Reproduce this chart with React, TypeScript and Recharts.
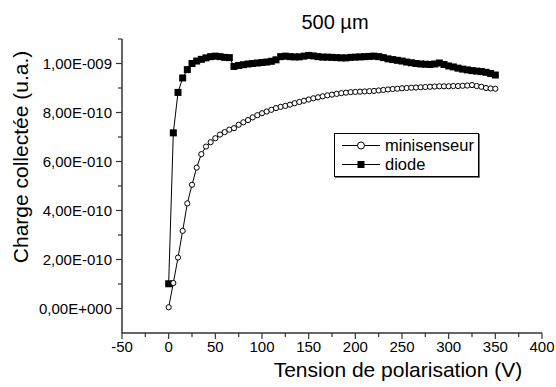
import { LineChart, Line, XAxis, YAxis, Legend } from 'recharts'

// bias voltage (V)
const voltages = [
  0, 5, 10, 15, 20, 25, 30, 35, 40, 45, 50, 55, 60, 65, 70, 75, 80, 85, 90, 95,
  100, 105, 110, 115, 120, 125, 130, 135, 140, 145, 150, 155, 160, 165, 170, 175,
  180, 185, 190, 195, 200, 205, 210, 215, 220, 225, 230, 235, 240, 245, 250, 255,
  260, 265, 270, 275, 280, 285, 290, 295, 300, 305, 310, 315, 320, 325, 330, 335,
  340, 345, 350,
]

// collected charge, in units of 1e-10
const minisenseur = [
  0.05, 1.04, 2.08, 3.17, 4.29, 5.05, 5.75, 6.3, 6.61, 6.79, 6.95, 7.1, 7.2, 7.3, 7.36, 7.5, 7.6, 7.69, 7.8, 7.89,
  7.97, 8.04, 8.11, 8.18, 8.23, 8.27, 8.32, 8.38, 8.43, 8.48, 8.53, 8.58, 8.62, 8.66, 8.7, 8.73,
  8.76, 8.79, 8.81, 8.83, 8.84, 8.85, 8.86, 8.87, 8.88, 8.9, 8.92, 8.94, 8.96, 8.97, 8.99, 9.0,
  9.01, 9.02, 9.03, 9.04, 9.05, 9.06, 9.07, 9.07, 9.07, 9.08, 9.08, 9.09, 9.1, 9.12, 9.08, 9.05,
  9.0, 8.98, 8.97,
]

const diode = [
  1.01, 7.17, 8.82, 9.41, 9.75, 10.0, 10.1, 10.17, 10.23, 10.28, 10.3, 10.28, 10.25, 10.24, 9.88, 9.92, 9.95, 9.98, 10.0, 10.02,
  10.04, 10.06, 10.09, 10.15, 10.28, 10.3, 10.28, 10.27, 10.27, 10.3, 10.33, 10.31, 10.28, 10.26, 10.26, 10.25,
  10.24, 10.23, 10.23, 10.25, 10.26, 10.27, 10.28, 10.29, 10.3, 10.28, 10.24, 10.19, 10.16, 10.13, 10.1, 10.06,
  10.03, 10.0, 9.98, 9.97, 9.96, 9.98, 10.02, 9.96, 9.9, 9.86, 9.81, 9.77, 9.74, 9.71, 9.69, 9.67,
  9.64, 9.59, 9.53,
]

const xTicks = [-50, -25, 0, 25, 50, 75, 100, 125, 150, 175, 200, 225, 250, 275, 300, 325, 350, 375, 400]
const yTicks = [0, 1, 2, 3, 4, 5, 6, 7, 8, 9, 10, 11]
const yTickLabels = ['0,00E+000', '2,00E-010', '4,00E-010', '6,00E-010', '8,00E-010', '1,00E-009']

const FONT = '"Liberation Sans", Arial, sans-serif'
const AXIS = '#333'

const data = voltages.map((v, i) => ({ v, minisenseur: minisenseur[i], diode: diode[i] }))

function XTick({ x, y, payload }: any) {
  const major = payload.value % 50 === 0
  return (
    <g>
      <line x1={x} x2={x} y1={y} y2={y + (major ? 6 : 4)} stroke={AXIS} strokeWidth={1.2} />
      {major && (
        <text x={x} y={y + 19} textAnchor="middle" fontSize={15} fontFamily={FONT} fill="#000">
          {payload.value}
        </text>
      )}
    </g>
  )
}

function YTick({ x, y, payload }: any) {
  const major = payload.value % 2 === 0
  const label = major ? yTickLabels[payload.value / 2] : undefined
  return (
    <g>
      <line x1={x} x2={x - (major ? 6 : 4)} y1={y} y2={y} stroke={AXIS} strokeWidth={1.2} />
      {label && (
        <text x={x - 10} y={y + 5} textAnchor="end" fontSize={15} fontFamily={FONT} fill="#000">
          {label}
        </text>
      )}
    </g>
  )
}

function SquareDot({ cx, cy, index }: any) {
  return <rect key={index} x={cx - 3.5} y={cy - 3.5} width={7} height={7} fill="#000" />
}

function renderLegend() {
  const rows = [
    { name: 'minisenseur', square: false },
    { name: 'diode', square: true },
  ]
  return (
    <div
      style={{
        width: 145,
        height: 44,
        border: '1px solid #000',
        boxShadow: '1px 1px 0 #777',
        background: '#fff',
        fontFamily: FONT,
        fontSize: 16.5,
        boxSizing: 'border-box',
        paddingTop: 2,
      }}
    >
      {rows.map((r) => (
        <div key={r.name} style={{ display: 'flex', alignItems: 'center', height: 19 }}>
          <svg width={50} height={19} style={{ flexShrink: 0 }}>
            <line x1={7} x2={45} y1={9.5} y2={9.5} stroke="#000" strokeWidth={1} />
            {r.square ? (
              <rect x={22.5} y={6} width={7} height={7} fill="#000" />
            ) : (
              <circle cx={26} cy={9.5} r={3.5} fill="#fff" stroke="#000" strokeWidth={1} />
            )}
          </svg>
          <span style={{ lineHeight: '19px' }}>{r.name}</span>
        </div>
      ))}
    </div>
  )
}

export default function App() {
  return (
    <div style={{ position: 'absolute', left: 0, top: 0, width: 556, height: 387, background: '#fff' }}>
      <LineChart width={556} height={387} data={data} margin={{ top: 39, right: 14, bottom: 24, left: 62 }}>
        <XAxis
          type="number"
          dataKey="v"
          domain={[-50, 400]}
          ticks={xTicks}
          interval={0}
          height={30}
          tickSize={0}
          tickMargin={0}
          tickLine={false}
          tick={<XTick />}
          axisLine={{ stroke: AXIS, strokeWidth: 1.5 }}
        />
        <YAxis
          type="number"
          domain={[-1, 11]}
          ticks={yTicks}
          interval={0}
          width={60}
          tickSize={0}
          tickMargin={0}
          tickLine={false}
          tick={<YTick />}
          axisLine={{ stroke: AXIS, strokeWidth: 1.5 }}
        />
        <Legend
          layout="horizontal"
          verticalAlign="middle"
          align="center"
          content={renderLegend}
          wrapperStyle={{ left: 334, top: 133, width: 147 }}
        />
        <Line
          dataKey="diode"
          stroke="#000"
          strokeWidth={1}
          dot={<SquareDot />}
          isAnimationActive={false}
        />
        <Line
          dataKey="minisenseur"
          stroke="#000"
          strokeWidth={1}
          dot={{ r: 2.6, fill: '#fff', stroke: '#000', strokeWidth: 1 }}
          isAnimationActive={false}
        />
      </LineChart>
      <svg width={556} height={387} style={{ position: 'absolute', left: 0, top: 0, pointerEvents: 'none' }}>
        <text x={335} y={29} textAnchor="middle" fontSize={20} fontFamily={FONT}>
          500 µm
        </text>
        <text x={398} y={377} textAnchor="middle" fontSize={21} fontFamily={FONT}>
          Tension de polarisation (V)
        </text>
        <text x={28} y={157} textAnchor="middle" fontSize={21} fontFamily={FONT} transform="rotate(-90 28 157)">
          Charge collectée (u.a.)
        </text>
      </svg>
    </div>
  )
}
